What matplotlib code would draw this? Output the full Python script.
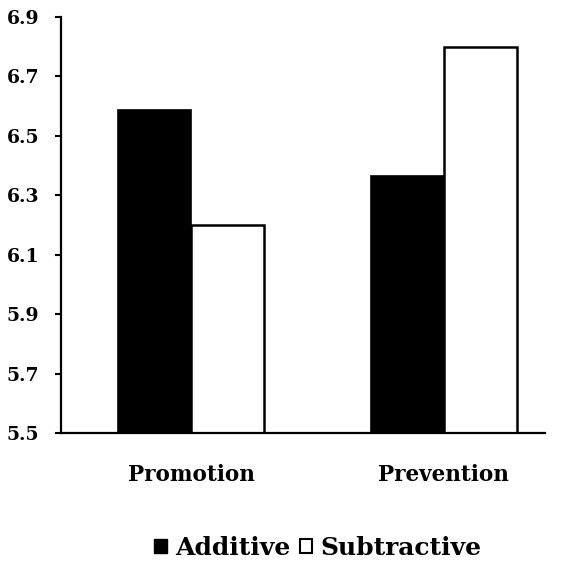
import matplotlib
matplotlib.use("Agg")
import matplotlib.pyplot as plt
from matplotlib.patches import Patch
import numpy as np

categories = ["Promotion", "Prevention"]
series_names = ["Additive", "Subtractive"]
additive = [6.587, 6.365]
subtractive = [6.20, 6.80]
yticks = [5.5, 5.7, 5.9, 6.1, 6.3, 6.5, 6.7, 6.9]

plt.rcParams['font.family'] = ['DejaVu Serif']
plt.rcParams['font.weight'] = 'bold'

fig = plt.figure(figsize=(5.63, 5.61), dpi=100)
ax = fig.add_axes([61/563, 1-433/561, (545-61)/563, (433-17)/561])

x = np.arange(len(categories))
w = 0.29
ax.bar(x - w/2, additive, width=w, color='black', edgecolor='black', linewidth=1.2, label=series_names[0])
ax.bar(x + w/2, subtractive, width=w, color='white', edgecolor='black', linewidth=1.8, label=series_names[1])

ax.set_ylim(5.5, 6.9)
ax.set_xlim(-0.514, 1.40)
ax.set_yticks(yticks)
ax.set_yticklabels([f"{v:.1f}" for v in yticks], fontsize=13.5, fontweight='bold')
ax.set_xticks(x)
ax.set_xticklabels(categories, fontsize=15.5, fontweight='bold')
ax.tick_params(axis='x', length=0, pad=22)
ax.tick_params(axis='y', length=4.5, width=1.5, pad=11, direction='out')
for s in ['top', 'right']:
    ax.spines[s].set_visible(False)
for s in ['left', 'bottom']:
    ax.spines[s].set_linewidth(1.6)

handles = [Patch(facecolor='black', edgecolor='black', linewidth=1.0),
           Patch(facecolor='white', edgecolor='black', linewidth=1.5)]
fig.legend(handles, series_names, loc='center', bbox_to_anchor=(318/563, 1-548/561),
           ncol=2, frameon=False, prop={'size': 18, 'weight': 'bold'},
           handlelength=0.5, handleheight=0.5, handletextpad=0.35, columnspacing=0.35)

fig.savefig("out.png", dpi=100)
